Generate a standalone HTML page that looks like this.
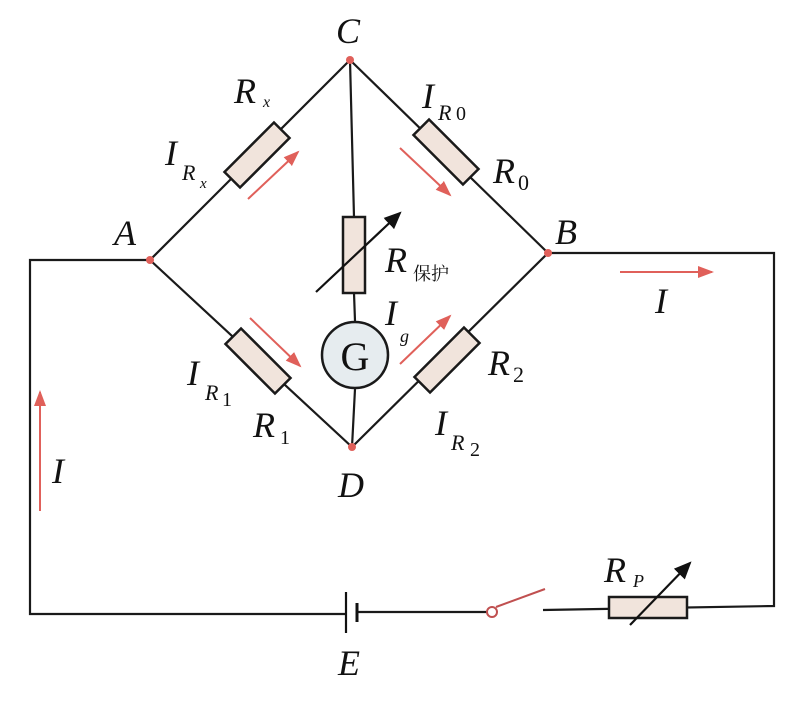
<!DOCTYPE html>
<html><head><meta charset="utf-8"><style>
body{margin:0;background:#fff}
svg text{font-family:"Liberation Serif","Noto Serif CJK SC",serif;font-style:italic;fill:#111}
</style></head><body>
<svg width="792" height="718" viewBox="0 0 792 718" xmlns="http://www.w3.org/2000/svg">
<defs><marker id="ra" markerWidth="8" markerHeight="8" refX="7" refY="4" orient="auto"><path d="M0,1 L8,4 L0,7 Z" fill="#e0605a"/></marker>
<marker id="ka" markerWidth="8" markerHeight="8" refX="7" refY="4" orient="auto"><path d="M0,0.5 L8,4 L0,7.5 Z" fill="#111"/></marker></defs>
<g stroke="#1a1a1a" stroke-width="2.2" fill="none">
<path d="M150,260 L350,60 L548,253 L352,447 Z"/>
<path d="M350,60 L354,217 M354,293 L355,321 M355,389 L352,447"/>
<path d="M150,260 L30,260 L30,614 L346,614 M357,612 L487,612 M543,610 L774,606 L774,253 L548,253"/>
</g>
<g fill="#f1e4dc" stroke="#1a1a1a" stroke-width="2.5">
<rect x="222" y="144" width="70" height="22" transform="rotate(-45 257 155)"/>
<rect x="411" y="141" width="70" height="22" transform="rotate(45 446 152)"/>
<rect x="223" y="350" width="70" height="22" transform="rotate(45 258 361)"/>
<rect x="412" y="349" width="70" height="22" transform="rotate(-45 447 360)"/>
<rect x="343" y="217" width="22" height="76"/>
<rect x="609" y="597" width="78" height="21"/>
</g>
<circle cx="355" cy="355" r="33" fill="#e6ecef" stroke="#1a1a1a" stroke-width="2.5"/>
<text x="355" y="370" text-anchor="middle" font-size="40" style="font-style:normal">G</text>
<g stroke="#111" stroke-width="2.2"><line x1="316" y1="292" x2="400" y2="213" marker-end="url(#ka)"/>
<line x1="630" y1="625" x2="690" y2="563" marker-end="url(#ka)"/>
<line x1="346" y1="592" x2="346" y2="633"/><line x1="357" y1="603" x2="357" y2="622" stroke-width="3"/></g>
<circle cx="492" cy="612" r="5" fill="none" stroke="#c05050" stroke-width="2"/>
<line x1="496" y1="607" x2="545" y2="589" stroke="#c05050" stroke-width="2"/>
<g stroke="#e0605a" stroke-width="2"><line x1="248" y1="199" x2="298" y2="152" marker-end="url(#ra)"/>
<line x1="400" y1="148" x2="450" y2="195" marker-end="url(#ra)"/>
<line x1="250" y1="318" x2="300" y2="366" marker-end="url(#ra)"/>
<line x1="400" y1="364" x2="450" y2="316" marker-end="url(#ra)"/>
<line x1="620" y1="272" x2="712" y2="272" marker-end="url(#ra)"/>
<line x1="40" y1="511" x2="40" y2="392" marker-end="url(#ra)"/></g>
<g fill="#e0605a"><circle cx="350" cy="60" r="4"/><circle cx="150" cy="260" r="4"/><circle cx="548" cy="253" r="4"/><circle cx="352" cy="447" r="4"/></g>
<g font-size="36">
<text x="336" y="43">C</text><text x="114" y="245">A</text><text x="555" y="244">B</text><text x="338" y="497">D</text>
<text x="234" y="103">R</text><text x="263" y="107" font-size="16">x</text>
<text x="165" y="165">I</text><text x="182" y="180" font-size="22">R</text><text x="200" y="188" font-size="15">x</text>
<text x="422" y="108">I</text><text x="438" y="120" font-size="22">R</text><text x="456" y="120" font-size="20" style="font-style:normal">0</text>
<text x="493" y="183">R</text><text x="518" y="190" font-size="22" style="font-style:normal">0</text>
<text x="385" y="272">R</text><text x="413" y="280" font-size="18" style="font-style:normal">保护</text>
<text x="385" y="325">I</text><text x="400" y="342" font-size="18">g</text>
<text x="187" y="385">I</text><text x="205" y="400" font-size="22">R</text><text x="222" y="406" font-size="20" style="font-style:normal">1</text>
<text x="253" y="437">R</text><text x="280" y="444" font-size="20" style="font-style:normal">1</text>
<text x="488" y="375">R</text><text x="513" y="382" font-size="22" style="font-style:normal">2</text>
<text x="435" y="435">I</text><text x="451" y="450" font-size="22">R</text><text x="470" y="456" font-size="20" style="font-style:normal">2</text>
<text x="655" y="313">I</text><text x="52" y="483">I</text>
<text x="338" y="675">E</text>
<text x="604" y="582">R</text><text x="633" y="587" font-size="18">P</text>
</g>
</svg>
</body></html>
